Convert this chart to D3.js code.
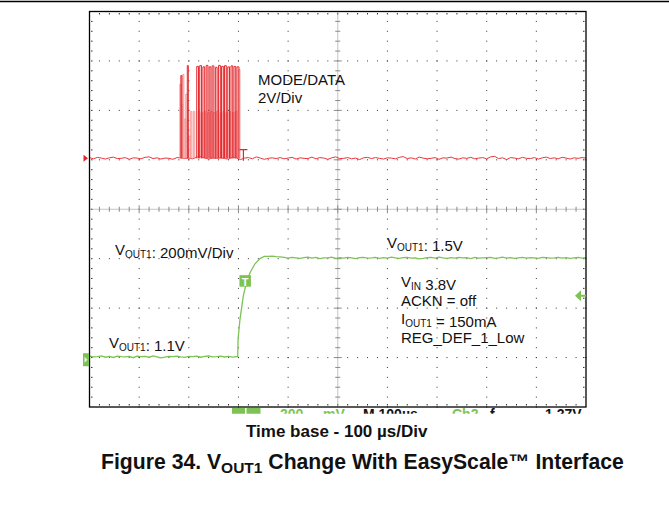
<!DOCTYPE html>
<html>
<head>
<meta charset="utf-8">
<script src="https://cdn.jsdelivr.net/npm/d3@7"></script>
<style>
  body { margin: 0; background: #fff; }
  text { font-family: "Liberation Sans", Arial, sans-serif; }
</style>
</head>
<body>
<script>
// red channel (MODE/DATA), baseline noise in 0.01 V, one sample every 8 us
const redNoise = [
  3,-2,4,1,-3,2,5,-1,0,3,-4,2,1,-2,4,6,-1,2,-3,1,
  0,-4,3,2,-1,1,-2,5,7,2,-3,1,0,2,-1,-3,4,2,-5,1,
  3,-2,6,1,-4,0,2,-1,3,-2,1,4,-3,2,0,-1,5,-2,3,1,
  -4,2,6,-1,0,3,-2,1,-5,2,4,-1,3,0,-3,2,1,-2,4,7,
  -1,2,-3,5,1,-2,0,3,-4,2,1,5,-1,-3,2,0,4,-2,1,3,
  -2,6,8,-1,2,-5,3,1,-2,4,0,-1,3,-3,2,5,-1,2,-2,4,
  1,-3,2,0,3,1
];
// EasyScale burst: [start us, end us, level V]
const redPulses = [
  [184,186,3.35],[197,199,3.75],
  [216,219.5,3.72],[222,225.5,3.75],[228.5,232,3.7],[235,238.5,3.76],
  [241,244.5,3.7],[247,250.5,3.74],[253.5,257,3.68],[260,263.5,3.76],
  [266,269.5,3.72],[272,275.5,3.75],[278.5,282,3.7],[285,288.5,3.74],
  [291,294.5,3.72],[297,301,3.7]
];
// persistence (lighter) pulses
const redGhost = [
  [182,185,3.0],[186,188,2.2],[188,190,3.4],[192,194,1.6],[194,197,2.6],
  [200,203,0.9],[203,206,1.9],[209,212,1.9],[219,222,1.9],[225,228,1.85],
  [231,234,1.9],[238,241,1.85],[244,247,1.9],[250,253,1.85],[256,259,1.9],
  [263,266,1.85],[269,272,1.9],[275,278,1.85],[281,284,1.9],[288,291,1.85],
  [294,297,1.9],[300,303,3.6]
];

// green channel (VOUT1), noise in mV, one sample every 8 us
const greenNoise = [
  2,-1,0,3,-2,1,-3,2,0,-1,1,-4,2,0,1,-2,3,-1,-5,-2,
  1,0,2,-1,-3,1,0,2,-2,1,3,-1,0,2,-1,1,-2,0,3,-1,
  0,1,-1,2,0,6,7,5,4,2,-1,2,0,-2,1,3,-1,2,-3,0,
  0,3,-2,1,-1,2,0,-3,1,2,-1,0,2,-2,1,-1,3,0,-2,1,
  2,-1,0,-4,-2,1,2,-1,3,0,-2,1,-1,2,0,1,-3,2,-1,0,
  1,2,-2,0,3,-1,1,-2,0,2,-1,1,0,-2,2,1,-1,0,2,-1,
  1,-2,0,2,-1,1
];
const greenLow = 1.1, greenHigh = 1.5;
const greenRise = [
  [298.6,1.10],[299.2,1.17],[303,1.25],[309.8,1.346],[316,1.40],
  [323.3,1.44],[333,1.475],[343.4,1.497],[352,1.506]
];

const W = 669, H = 518;
const svg = d3.select('body').append('svg').attr('width', W).attr('height', H);

// page rule
svg.append('line').attr('x1', 0).attr('x2', W).attr('y1', 1.5).attr('y2', 1.5)
  .attr('stroke', '#000').attr('stroke-width', 1.4);

const x = d3.scaleLinear().domain([0, 1000]).range([89.5, 586]);   // 100 us/div
const y = d3.scaleLinear().domain([0, 8]).range([407, 11.5]);       // divisions

const RED_ZERO = 5.03, GREEN_REF = 1.017;
const redY = v => y(RED_ZERO + v / 2);                // 2 V/div
const greenY = v => y(GREEN_REF + (v - greenLow) / 0.2); // 200 mV/div

const g = svg.append('g');
const minorT = d3.range(0, 51).map(j => j * 20);
const minorD = d3.range(0, 41).map(j => j * 0.2);
const dotColor = '#333';

// major grid, dotted
[100, 200, 300, 400, 600, 700, 800, 900].forEach(t => {
  g.selectAll(null).data(minorD).enter().append('rect')
    .attr('x', x(t) - 0.5).attr('y', d => y(d) - 0.5)
    .attr('width', 1).attr('height', 1).attr('fill', dotColor);
});
[1, 2, 3, 5, 6, 7].forEach(dv => {
  g.selectAll(null).data(minorT).enter().append('rect')
    .attr('x', t => x(t) - 0.5).attr('y', y(dv) - 0.5)
    .attr('width', 1).attr('height', 1).attr('fill', dotColor);
});

// border inner ticks
g.selectAll(null).data(minorT.slice(1, -1)).enter().append('rect')
  .attr('x', t => x(t) - 0.5).attr('y', y(8) + 1.5).attr('width', 1).attr('height', 1.5).attr('fill', dotColor);
g.selectAll(null).data(minorT.slice(1, -1)).enter().append('rect')
  .attr('x', t => x(t) - 0.5).attr('y', y(0) - 3).attr('width', 1).attr('height', 1.5).attr('fill', dotColor);
g.selectAll(null).data(minorD.slice(1, -1)).enter().append('rect')
  .attr('x', x(0) + 1.5).attr('y', d => y(d) - 0.5).attr('width', 1.5).attr('height', 1).attr('fill', dotColor);
g.selectAll(null).data(minorD.slice(1, -1)).enter().append('rect')
  .attr('x', x(1000) - 3).attr('y', d => y(d) - 0.5).attr('width', 1.5).attr('height', 1).attr('fill', dotColor);

// centre cross with ticks
const cx = x(500), cy = y(4);
const isMajor = v => Math.abs(v - Math.round(v)) < 1e-6;
g.append('line').attr('x1', cx).attr('x2', cx).attr('y1', y(8)).attr('y2', y(0))
  .attr('stroke', '#8a8a8a').attr('stroke-dasharray', '1,1');
g.append('line').attr('x1', x(0)).attr('x2', x(1000)).attr('y1', cy).attr('y2', cy)
  .attr('stroke', '#8a8a8a').attr('stroke-dasharray', '1,1');
g.selectAll(null).data(minorD.slice(1, -1)).enter().append('line')
  .attr('x1', d => cx - (isMajor(d) ? 4 : 2.5))
  .attr('x2', d => cx + (isMajor(d) ? 4 : 2.5))
  .attr('y1', d => y(d)).attr('y2', d => y(d))
  .attr('stroke', '#8a8a8a');
g.selectAll(null).data(minorT.slice(1, -1)).enter().append('line')
  .attr('y1', t => cy - (t % 100 === 0 ? 4 : 2.5))
  .attr('y2', t => cy + (t % 100 === 0 ? 4 : 2.5))
  .attr('x1', t => x(t)).attr('x2', t => x(t))
  .attr('stroke', '#8a8a8a');

// red trace
const redBase = redNoise.map((n, i) => [i * 8, n / 100]);
const lineR = d3.line().x(d => x(d[0])).y(d => redY(d[1]));
g.append('path').datum(redBase).attr('d', lineR)
  .attr('fill', 'none').attr('stroke', '#e8383d').attr('stroke-width', 1);
const pulsePts = p => [[p[0], 0], [p[0], p[2]], [p[1], p[2]], [p[1], 0]];
g.selectAll(null).data(redGhost).enter().append('path')
  .attr('d', p => lineR(pulsePts(p)))
  .attr('fill', 'none').attr('stroke', '#f29a9a').attr('stroke-width', 1);
g.selectAll(null).data(redPulses).enter().append('path')
  .attr('d', p => lineR(pulsePts(p)))
  .attr('fill', 'none').attr('stroke', '#e3262b').attr('stroke-width', 1);

// red trigger marker
const tx = x(310);
g.append('path')
  .attr('d', `M${tx - 4},${redY(0.35)}H${tx + 4}M${tx},${redY(0.35)}V${redY(-0.1)}`)
  .attr('stroke', '#e3262b').attr('stroke-width', 1.2).attr('fill', 'none');

// green trace
const greenPts = [];
greenNoise.forEach((n, i) => { if (i * 8 < greenRise[0][0]) greenPts.push([i * 8, greenLow + n / 1000]); });
greenRise.forEach(p => greenPts.push(p));
greenNoise.forEach((n, i) => { if (i * 8 > greenRise[greenRise.length - 1][0]) greenPts.push([i * 8, greenHigh + n / 1000]); });
g.append('path').datum(greenPts)
  .attr('d', d3.line().x(d => x(d[0])).y(d => greenY(d[1])))
  .attr('fill', 'none').attr('stroke', '#7dc353').attr('stroke-width', 1.3);

// frame
g.append('rect').attr('x', x(0)).attr('y', y(8)).attr('width', x(1000) - x(0)).attr('height', y(0) - y(8))
  .attr('fill', 'none').attr('stroke', '#000').attr('stroke-width', 1.3);

// channel markers
const green = '#7dc353';
svg.append('path')
  .attr('d', `M${x(0) - 6},${redY(0) - 3.5}L${x(0) - 1.5},${redY(0)}L${x(0) - 6},${redY(0) + 3.5}Z`)
  .attr('fill', '#e3262b');
const gy0 = greenY(greenLow) + 3;
svg.append('rect').attr('x', x(0) - 6.5).attr('y', gy0 - 6.5).attr('width', 6).attr('height', 13).attr('fill', green);
svg.append('path').attr('d', `M${x(0) - 5},${gy0 - 3}L${x(0) - 2},${gy0}L${x(0) - 5},${gy0 + 3}Z`).attr('fill', '#e6f5dc');
const ay = y(2.25);
svg.append('path').attr('d', `M${x(1000) - 11},${ay}L${x(1000) - 5},${ay - 5.5}V${ay + 5.5}Z`).attr('fill', green);
svg.append('line').attr('x1', x(1000) - 6).attr('x2', x(1000)).attr('y1', ay).attr('y2', ay)
  .attr('stroke', green).attr('stroke-width', 2);
const bx = x(302), by = y(2.545);
svg.append('rect').attr('x', bx).attr('y', by - 6).attr('width', 11.5).attr('height', 11.5).attr('fill', green);
svg.append('text').attr('x', bx + 5.75).attr('y', by + 4.5).attr('text-anchor', 'middle')
  .attr('font-size', 11).attr('font-weight', 'bold').attr('fill', '#fff').text('T');

// labels
function label(xp, yp, parts) {
  const t = svg.append('text').attr('x', xp).attr('y', yp).attr('font-size', 15).attr('fill', '#111');
  parts.forEach(p => {
    if (p.sub) {
      t.append('tspan').attr('font-size', 10).attr('dy', 3).text(p.sub);
      t.append('tspan').attr('dy', -3).text('');
    } else {
      t.append('tspan').text(p.t);
    }
  });
  return t;
}
label(258, 85, [{ t: 'MODE/DATA' }]);
label(258, 103, [{ t: '2V/Div' }]);
label(115, 255, [{ t: 'V' }, { sub: 'OUT1' }, { t: ': 200mV/Div' }]);
label(387, 248, [{ t: 'V' }, { sub: 'OUT1' }, { t: ': 1.5V' }]);
label(401, 287, [{ t: 'V' }, { sub: 'IN' }, { t: ' 3.8V' }]);
label(401, 306, [{ t: 'ACKN = off' }]);
label(401, 324, [{ t: 'I' }, { sub: 'OUT1' }, { t: ' = 150mA' }]);
label(401, 343, [{ t: 'REG_DEF_1_Low' }]);
label(109, 348, [{ t: 'V' }, { sub: 'OUT1' }, { t: ': 1.1V' }]);

// scope status bar, cut off under the frame
svg.append('clipPath').attr('id', 'sb').append('rect').attr('x', 0).attr('y', 408).attr('width', W).attr('height', 5.8);
const sb = svg.append('g').attr('clip-path', 'url(#sb)');
sb.append('rect').attr('x', 232).attr('y', 408).attr('width', 13).attr('height', 10).attr('fill', green);
sb.append('rect').attr('x', 246.5).attr('y', 408).attr('width', 14).attr('height', 10).attr('fill', green);
const sbt = [
  [280, '200', green], [323, 'mV', green], [363, 'M 100µs', '#111'],
  [452, 'Ch2', green], [490, 'f', '#111'], [545, '1.27V', '#111']
];
sb.selectAll(null).data(sbt).enter().append('text')
  .attr('x', d => d[0]).attr('y', 419).attr('font-size', 14).attr('font-weight', 'bold')
  .attr('fill', d => d[2]).text(d => d[1]);

// captions
svg.append('text').attr('x', 246).attr('y', 437).attr('font-size', 17).attr('font-weight', 'bold')
  .attr('fill', '#111').text('Time base - 100 µs/Div');
const cap = svg.append('text').attr('x', 101).attr('y', 469).attr('font-size', 21.2)
  .attr('font-weight', 'bold').attr('fill', '#111');
cap.append('tspan').text('Figure 34. V');
cap.append('tspan').attr('font-size', 15.5).attr('dy', 4).text('OUT1');
cap.append('tspan').attr('dy', -4).text(' Change With EasyScale™ Interface');
</script>
</body>
</html>
